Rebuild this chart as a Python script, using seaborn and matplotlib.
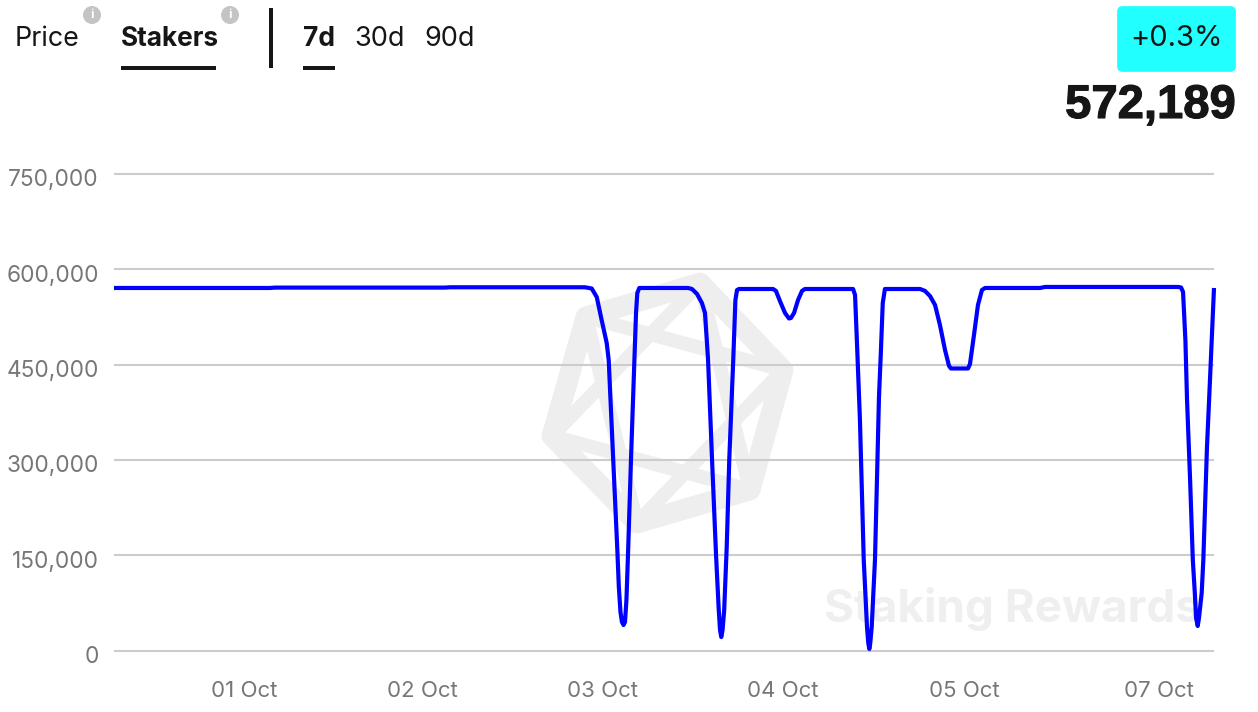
import matplotlib

matplotlib.use("Agg")
import matplotlib.patheffects as pe
import matplotlib.pyplot as plt
import matplotlib.transforms as mtrans
import pandas as pd
import seaborn as sns
from matplotlib.patches import Circle, FancyBboxPatch, Polygon, Rectangle

WIDTH, HEIGHT = 1258, 712

# time in days after 01 Oct (the axis is not quite linear in the source chart)
days = [
    -0.718, 0.144, 0.171, 1.110, 1.138, 1.884,
    1.921, 1.949, 1.976, 2.004, 2.015, 2.040, 2.062, 2.071, 2.080, 2.088, 2.097, 2.105,
    2.113, 2.123, 2.138, 2.157, 2.166, 2.173, 2.184,
    2.453, 2.475, 2.503, 2.530, 2.547, 2.555, 2.564, 2.586, 2.608, 2.623, 2.630, 2.637,
    2.644, 2.653, 2.667, 2.681, 2.703, 2.715, 2.724, 2.735,
    2.923, 2.939, 2.961, 2.989, 3.011, 3.022, 3.039, 3.061, 3.083, 3.099,
    3.365, 3.376, 3.387, 3.403, 3.424, 3.442, 3.449, 3.455, 3.460, 3.468, 3.486, 3.497,
    3.508, 3.519, 3.529, 3.541,
    3.735, 3.762, 3.790, 3.818, 3.845, 3.873, 3.895, 3.906, 4.000, 4.011, 4.033, 4.055, 4.077, 4.094,
    4.398, 4.425, 5.160, 5.177, 5.188, 5.201, 5.210, 5.227, 5.242, 5.253, 5.260, 5.269,
    5.276, 5.291, 5.300, 5.320, 5.337, 5.359,
]
stakers = [
    570600, 570600, 571200, 571200, 571700, 571700,
    569800, 556400, 520200, 484000, 457300, 299900, 162900, 100000, 60600, 45000, 40100, 45000,
    79500, 162900, 299900, 457300, 531300, 562700, 570600,
    570600, 569000, 561200, 547000, 531300, 496600, 457300, 299900, 150300, 63700, 32300, 21200,
    32300, 63700, 162900, 299900, 457300, 551700, 567400, 569000,
    569000, 566000, 550100, 531300, 522600, 523400, 531300, 551700, 566000, 569000,
    569000, 559600, 480900, 362800, 142400, 37000, 11800, 2400, 11800, 37000, 142400, 268400,
    397400, 473000, 547000, 569000,
    569000, 566000, 558000, 543800, 512300, 473000, 448000, 443900, 443900, 451000, 496600, 543800, 567400, 570600,
    570600, 572200, 572200, 571400, 564300, 488700, 394300, 268400, 142400, 90500, 51200, 38600,
    51200, 90500, 142400, 318700, 427300, 570600,
]

y_ticks = [0, 150000, 300000, 450000, 600000, 750000]
y_labels = ["0", "150,000", "300,000", "450,000", "600,000", "750,000"]
x_ticks = [0, 0.983, 1.978, 2.978, 3.978, 5.055]
x_labels = ["01 Oct", "02 Oct", "03 Oct", "04 Oct", "05 Oct", "07 Oct"]

sns.set_theme(style="white")
plt.rcParams["font.family"] = ["Inter", "DejaVu Sans"]

df = pd.DataFrame({"day": days, "stakers": stakers})

fig = plt.figure(figsize=(WIDTH / 100, HEIGHT / 100), dpi=100, facecolor="white")

# page layer in pixel coordinates for the header and the watermark
page = fig.add_axes([0, 0, 1, 1], zorder=0)
page.set_xlim(0, WIDTH)
page.set_ylim(HEIGHT, 0)
page.axis("off")

INK = "#161616"
MARK = "#eeeeee"

hexagon = [(700, 283), (783, 370), (750, 490), (637, 523), (552, 436), (586, 317)]
page.add_patch(Polygon(hexagon, closed=True, fill=False, ec=MARK, lw=15, joinstyle="round"))
for tri in (hexagon[0::2], hexagon[1::2]):
    page.add_patch(Polygon(tri, closed=True, fill=False, ec=MARK, lw=10, joinstyle="round"))
page.text(1012, 622, "Staking Rewards", ha="center", va="baseline", fontsize=33,
          fontweight="bold", color="#efefef")

page.text(15, 46, "Price", fontsize=19.3, color=INK, va="baseline")
page.text(121, 46, "Stakers", fontsize=18.9, fontweight="bold", color=INK, va="baseline")
page.text(303, 46, "7d", fontsize=19, fontweight="bold", color=INK, va="baseline")
page.text(354, 46, "30d", fontsize=19.5, color=INK, va="baseline")
page.text(424, 46, "90d", fontsize=19.5, color=INK, va="baseline")
page.add_patch(Rectangle((121, 66), 95, 4, fc=INK, ec="none"))
page.add_patch(Rectangle((303, 66), 32, 4, fc=INK, ec="none"))
page.add_patch(Rectangle((269, 8), 4, 60, fc=INK, ec="none"))
for cx in (92, 230):
    page.add_patch(Circle((cx, 15), 9, fc="#c4c4c4", ec="none"))
    page.text(cx, 15.5, "i", ha="center", va="center", fontsize=9, fontweight="bold", color="white")

page.add_patch(FancyBboxPatch((1122, 11), 109, 56, boxstyle="round,pad=0,rounding_size=0",
                              fc="#22ffff", ec="#22ffff", lw=7, joinstyle="round"))
page.text(1176.5, 39, "+0.3%", ha="center", va="center", fontsize=21, color=INK)
total = page.text(1236, 118, "572,189", ha="right", va="baseline", fontsize=34, fontweight="bold",
                  family="Liberation Sans", color=INK)
total.set_path_effects([pe.withStroke(linewidth=0.8, foreground=INK)])

# chart
ax = fig.add_axes([114 / WIDTH, 1 - 650.5 / HEIGHT, 1100 / WIDTH, 476.5 / HEIGHT], zorder=1)
ax.patch.set_alpha(0)
sns.lineplot(data=df, x="day", y="stakers", ax=ax, color="#0000ff", linewidth=3,
             estimator=None, sort=False, zorder=3, clip_on=False)
ax.lines[0].set_solid_joinstyle("round")
ax.lines[0].set_solid_capstyle("butt")
ax.set_xlim(days[0], days[-1])
ax.set_ylim(0, 750000)
ax.set_yticks(y_ticks, y_labels)
ax.set_xticks(x_ticks, x_labels)
ax.set_xlabel("")
ax.set_ylabel("")
ax.grid(axis="y", color="#cccccc", lw=1.5)
ax.grid(axis="x", visible=False)
for gridline in ax.get_ygridlines():
    gridline.set_clip_on(False)
    gridline.set_solid_capstyle("butt")
sns.despine(ax=ax, left=True, bottom=True)
ax.tick_params(axis="y", length=0, pad=11, labelsize=16.3, labelcolor="#777777")
ax.tick_params(axis="x", length=0, pad=22, labelsize=16, labelcolor="#777777")
shift = mtrans.ScaledTranslation(0, -4 / 100, fig.dpi_scale_trans)
for label in ax.get_yticklabels():
    label.set_transform(label.get_transform() + shift)

fig.savefig("out.png", dpi=100)
